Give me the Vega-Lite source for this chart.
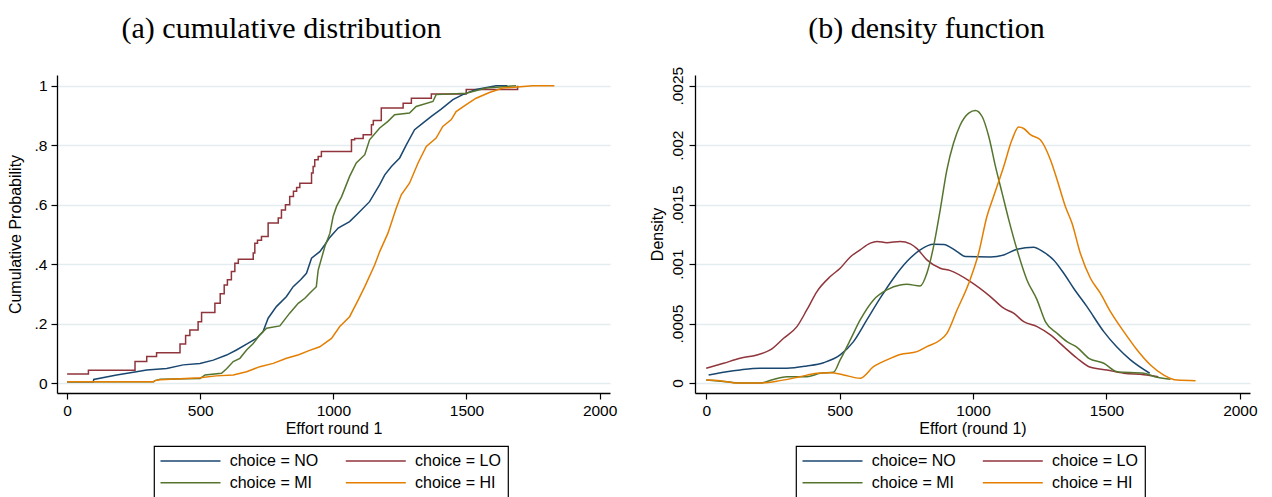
{
 "$schema": "https://vega.github.io/schema/vega-lite/v6.json",
 "autosize": {"type": "none"},
 "padding": {"left": 57, "top": 75, "right": 1215, "bottom": 422},
 "background": "white",
 "config": {
  "view": {"stroke": null},
  "font": "Liberation Sans",
  "axis": {"domainColor": "black", "domainWidth": 1.3, "tickColor": "black", "tickSize": 6, "tickWidth": 1.2, "labelFont": "Liberation Sans", "labelFontSize": 15.5, "labelColor": "black", "titleFont": "Liberation Sans", "titleFontSize": 16, "titleFontWeight": "normal", "titleColor": "black", "labelPadding": 4, "gridColor": "#e3ecee", "gridWidth": 1.3},
  "legend": {"orient": "none", "direction": "horizontal", "columns": 2, "symbolType": "M-1.7,0H10.3", "symbolSize": 100, "symbolStrokeWidth": 1.5, "strokeColor": "black", "strokeWidth": 1.2, "fillColor": "white", "padding": 7, "labelFont": "Liberation Sans", "labelFontSize": 16, "labelColor": "black", "labelOffset": 52.7, "columnPadding": 23.3, "rowPadding": 5.7, "labelLimit": 300},
  "title": {"font": "Liberation Serif", "fontSize": 30, "fontWeight": "normal", "color": "black"}
 },
 "bounds": "flush",
 "spacing": 85,
 "resolve": {"scale": {"color": "independent"}, "legend": {"color": "independent"}},
 "datasets": {
  "cdf": [
   {"g":"LO","x":0,"p":0.03},{"g":"LO","x":80,"p":0.043},{"g":"LO","x":255,"p":0.072},{"g":"LO","x":299,"p":0.089},{"g":"LO","x":336,"p":0.102},{"g":"LO","x":424,"p":0.131},{"g":"LO","x":445,"p":0.16},{"g":"LO","x":461,"p":0.178},{"g":"LO","x":492,"p":0.206},{"g":"LO","x":505,"p":0.237},{"g":"LO","x":555,"p":0.268},{"g":"LO","x":575,"p":0.3},{"g":"LO","x":590,"p":0.33},{"g":"LO","x":602,"p":0.347},{"g":"LO","x":617,"p":0.375},{"g":"LO","x":630,"p":0.403},{"g":"LO","x":643,"p":0.416},{"g":"LO","x":699,"p":0.437},{"g":"LO","x":705,"p":0.47},{"g":"LO","x":715,"p":0.48},{"g":"LO","x":730,"p":0.493},{"g":"LO","x":755,"p":0.538},{"g":"LO","x":793,"p":0.555},{"g":"LO","x":805,"p":0.582},{"g":"LO","x":820,"p":0.6},{"g":"LO","x":836,"p":0.627},{"g":"LO","x":850,"p":0.645},{"g":"LO","x":862,"p":0.658},{"g":"LO","x":874,"p":0.672},{"g":"LO","x":918,"p":0.706},{"g":"LO","x":924,"p":0.728},{"g":"LO","x":930,"p":0.751},{"g":"LO","x":943,"p":0.762},{"g":"LO","x":955,"p":0.779},{"g":"LO","x":1068,"p":0.818},{"g":"LO","x":1080,"p":0.822},{"g":"LO","x":1112,"p":0.835},{"g":"LO","x":1143,"p":0.869},{"g":"LO","x":1150,"p":0.883},{"g":"LO","x":1180,"p":0.925},{"g":"LO","x":1262,"p":0.941},{"g":"LO","x":1293,"p":0.958},{"g":"LO","x":1368,"p":0.972},{"g":"LO","x":1499,"p":0.987},{"g":"LO","x":1692,"p":1.0},
   {"g":"NO","x":0,"p":0.004},{"g":"NO","x":98,"p":0.004},{"g":"NO","x":100,"p":0.012},{"g":"NO","x":186,"p":0.027},{"g":"NO","x":249,"p":0.036},{"g":"NO","x":299,"p":0.044},{"g":"NO","x":374,"p":0.049},{"g":"NO","x":436,"p":0.061},{"g":"NO","x":499,"p":0.066},{"g":"NO","x":549,"p":0.077},{"g":"NO","x":599,"p":0.094},{"g":"NO","x":636,"p":0.111},{"g":"NO","x":674,"p":0.131},{"g":"NO","x":711,"p":0.15},{"g":"NO","x":736,"p":0.173},{"g":"NO","x":755,"p":0.218},{"g":"NO","x":786,"p":0.257},{"g":"NO","x":824,"p":0.291},{"g":"NO","x":849,"p":0.324},{"g":"NO","x":877,"p":0.347},{"g":"NO","x":899,"p":0.369},{"g":"NO","x":918,"p":0.42},{"g":"NO","x":949,"p":0.442},{"g":"NO","x":968,"p":0.465},{"g":"NO","x":984,"p":0.487},{"g":"NO","x":1018,"p":0.521},{"g":"NO","x":1061,"p":0.543},{"g":"NO","x":1093,"p":0.571},{"g":"NO","x":1136,"p":0.61},{"g":"NO","x":1174,"p":0.667},{"g":"NO","x":1193,"p":0.7},{"g":"NO","x":1218,"p":0.728},{"g":"NO","x":1249,"p":0.757},{"g":"NO","x":1274,"p":0.801},{"g":"NO","x":1305,"p":0.852},{"g":"NO","x":1336,"p":0.874},{"g":"NO","x":1368,"p":0.897},{"g":"NO","x":1405,"p":0.921},{"g":"NO","x":1449,"p":0.953},{"g":"NO","x":1486,"p":0.97},{"g":"NO","x":1536,"p":0.987},{"g":"NO","x":1611,"p":1.0},{"g":"NO","x":1654,"p":1.0},
   {"g":"MI","x":0,"p":0.004},{"g":"MI","x":324,"p":0.004},{"g":"MI","x":330,"p":0.008},{"g":"MI","x":350,"p":0.013},{"g":"MI","x":499,"p":0.015},{"g":"MI","x":518,"p":0.027},{"g":"MI","x":580,"p":0.033},{"g":"MI","x":599,"p":0.048},{"g":"MI","x":624,"p":0.072},{"g":"MI","x":649,"p":0.083},{"g":"MI","x":674,"p":0.111},{"g":"MI","x":699,"p":0.133},{"g":"MI","x":724,"p":0.162},{"g":"MI","x":749,"p":0.184},{"g":"MI","x":799,"p":0.192},{"g":"MI","x":836,"p":0.235},{"g":"MI","x":868,"p":0.268},{"g":"MI","x":893,"p":0.285},{"g":"MI","x":911,"p":0.302},{"g":"MI","x":936,"p":0.324},{"g":"MI","x":943,"p":0.38},{"g":"MI","x":968,"p":0.459},{"g":"MI","x":987,"p":0.504},{"g":"MI","x":999,"p":0.56},{"g":"MI","x":1012,"p":0.594},{"g":"MI","x":1031,"p":0.627},{"g":"MI","x":1061,"p":0.695},{"g":"MI","x":1086,"p":0.74},{"g":"MI","x":1118,"p":0.768},{"g":"MI","x":1136,"p":0.818},{"g":"MI","x":1174,"p":0.858},{"g":"MI","x":1205,"p":0.88},{"g":"MI","x":1230,"p":0.902},{"g":"MI","x":1286,"p":0.908},{"g":"MI","x":1311,"p":0.93},{"g":"MI","x":1374,"p":0.947},{"g":"MI","x":1386,"p":0.97},{"g":"MI","x":1499,"p":0.975},{"g":"MI","x":1574,"p":0.992},{"g":"MI","x":1686,"p":1.0},
   {"g":"HI","x":0,"p":0.004},{"g":"HI","x":324,"p":0.004},{"g":"HI","x":330,"p":0.008},{"g":"HI","x":350,"p":0.011},{"g":"HI","x":499,"p":0.018},{"g":"HI","x":560,"p":0.024},{"g":"HI","x":624,"p":0.027},{"g":"HI","x":674,"p":0.038},{"g":"HI","x":724,"p":0.055},{"g":"HI","x":774,"p":0.066},{"g":"HI","x":824,"p":0.083},{"g":"HI","x":870,"p":0.095},{"g":"HI","x":906,"p":0.108},{"g":"HI","x":949,"p":0.122},{"g":"HI","x":993,"p":0.15},{"g":"HI","x":1024,"p":0.19},{"g":"HI","x":1061,"p":0.223},{"g":"HI","x":1093,"p":0.279},{"g":"HI","x":1118,"p":0.324},{"g":"HI","x":1155,"p":0.397},{"g":"HI","x":1174,"p":0.442},{"g":"HI","x":1205,"p":0.504},{"g":"HI","x":1236,"p":0.588},{"g":"HI","x":1255,"p":0.633},{"g":"HI","x":1286,"p":0.672},{"g":"HI","x":1318,"p":0.74},{"g":"HI","x":1349,"p":0.796},{"g":"HI","x":1386,"p":0.824},{"g":"HI","x":1411,"p":0.863},{"g":"HI","x":1443,"p":0.886},{"g":"HI","x":1461,"p":0.913},{"g":"HI","x":1499,"p":0.936},{"g":"HI","x":1536,"p":0.958},{"g":"HI","x":1586,"p":0.977},{"g":"HI","x":1636,"p":0.992},{"g":"HI","x":1749,"p":1.0},{"g":"HI","x":1830,"p":1.0}
  ],
  "dens": [
   {"g":"LO","x":0,"d":0.000124},{"g":"LO","x":65,"d":0.000166},{"g":"LO","x":127,"d":0.000208},{"g":"LO","x":190,"d":0.000236},{"g":"LO","x":240,"d":0.000278},{"g":"LO","x":290,"d":0.000376},{"g":"LO","x":340,"d":0.000474},{"g":"LO","x":377,"d":0.000614},{"g":"LO","x":415,"d":0.000769},{"g":"LO","x":465,"d":0.000895},{"g":"LO","x":502,"d":0.000965},{"g":"LO","x":540,"d":0.00106},{"g":"LO","x":577,"d":0.00112},{"g":"LO","x":615,"d":0.001176},{"g":"LO","x":640,"d":0.00119},{"g":"LO","x":677,"d":0.00118},{"g":"LO","x":727,"d":0.00119},{"g":"LO","x":765,"d":0.00117},{"g":"LO","x":790,"d":0.00113},{"g":"LO","x":827,"d":0.001035},{"g":"LO","x":877,"d":0.000965},{"g":"LO","x":915,"d":0.000945},{"g":"LO","x":990,"d":0.000853},{"g":"LO","x":1065,"d":0.000727},{"g":"LO","x":1115,"d":0.000629},{"g":"LO","x":1152,"d":0.000587},{"g":"LO","x":1190,"d":0.000516},{"g":"LO","x":1240,"d":0.000474},{"g":"LO","x":1290,"d":0.000404},{"g":"LO","x":1340,"d":0.000306},{"g":"LO","x":1390,"d":0.000208},{"g":"LO","x":1440,"d":0.000132},{"g":"LO","x":1502,"d":0.000109},{"g":"LO","x":1565,"d":0.000082},{"g":"LO","x":1640,"d":0.00007},{"g":"LO","x":1694,"d":0.000053},
   {"g":"NO","x":9,"d":0.000067},{"g":"NO","x":77,"d":0.000095},{"g":"NO","x":127,"d":0.00011},{"g":"NO","x":202,"d":0.000124},{"g":"NO","x":302,"d":0.000124},{"g":"NO","x":377,"d":0.000143},{"g":"NO","x":440,"d":0.000171},{"g":"NO","x":502,"d":0.000236},{"g":"NO","x":552,"d":0.000348},{"g":"NO","x":602,"d":0.00053},{"g":"NO","x":652,"d":0.000713},{"g":"NO","x":702,"d":0.000881},{"g":"NO","x":752,"d":0.001021},{"g":"NO","x":802,"d":0.00112},{"g":"NO","x":852,"d":0.001167},{"g":"NO","x":890,"d":0.001165},{"g":"NO","x":940,"d":0.001105},{"g":"NO","x":971,"d":0.001063},{"g":"NO","x":1065,"d":0.00106},{"g":"NO","x":1115,"d":0.001077},{"g":"NO","x":1165,"d":0.001125},{"g":"NO","x":1227,"d":0.001142},{"g":"NO","x":1265,"d":0.0011},{"g":"NO","x":1302,"d":0.001035},{"g":"NO","x":1340,"d":0.000923},{"g":"NO","x":1377,"d":0.000797},{"g":"NO","x":1427,"d":0.000642},{"g":"NO","x":1490,"d":0.000432},{"g":"NO","x":1540,"d":0.0003},{"g":"NO","x":1590,"d":0.000194},{"g":"NO","x":1662,"d":0.000082},
   {"g":"MI","x":0,"d":0.000025},{"g":"MI","x":65,"d":0.000013},{"g":"MI","x":127,"d":0.0},{"g":"MI","x":202,"d":0.0},{"g":"MI","x":252,"d":0.00003},{"g":"MI","x":302,"d":0.000053},{"g":"MI","x":377,"d":0.000053},{"g":"MI","x":427,"d":0.000082},{"g":"MI","x":477,"d":0.00009},{"g":"MI","x":502,"d":0.000194},{"g":"MI","x":540,"d":0.000362},{"g":"MI","x":577,"d":0.00053},{"g":"MI","x":627,"d":0.000699},{"g":"MI","x":677,"d":0.000783},{"g":"MI","x":727,"d":0.000825},{"g":"MI","x":752,"d":0.00083},{"g":"MI","x":802,"d":0.000816},{"g":"MI","x":827,"d":0.000923},{"g":"MI","x":852,"d":0.001147},{"g":"MI","x":877,"d":0.001456},{"g":"MI","x":902,"d":0.001793},{"g":"MI","x":927,"d":0.002018},{"g":"MI","x":952,"d":0.00217},{"g":"MI","x":984,"d":0.00227},{"g":"MI","x":1009,"d":0.002292},{"g":"MI","x":1034,"d":0.002241},{"g":"MI","x":1059,"d":0.002073},{"g":"MI","x":1084,"d":0.001821},{"g":"MI","x":1109,"d":0.001597},{"g":"MI","x":1134,"d":0.001372},{"g":"MI","x":1165,"d":0.00112},{"g":"MI","x":1202,"d":0.000867},{"g":"MI","x":1240,"d":0.000699},{"g":"MI","x":1271,"d":0.000516},{"g":"MI","x":1315,"d":0.000418},{"g":"MI","x":1352,"d":0.000348},{"g":"MI","x":1390,"d":0.0003},{"g":"MI","x":1434,"d":0.000208},{"g":"MI","x":1490,"d":0.000166},{"g":"MI","x":1540,"d":0.000095},{"g":"MI","x":1640,"d":0.000082},{"g":"MI","x":1690,"d":0.000048},{"g":"MI","x":1740,"d":0.000031},
   {"g":"HI","x":0,"d":0.000025},{"g":"HI","x":52,"d":0.00002},{"g":"HI","x":115,"d":0.0},{"g":"HI","x":202,"d":0.0},{"g":"HI","x":277,"d":0.00002},{"g":"HI","x":352,"d":0.000053},{"g":"HI","x":415,"d":0.000082},{"g":"HI","x":465,"d":0.000087},{"g":"HI","x":515,"d":0.000068},{"g":"HI","x":577,"d":0.00004},{"g":"HI","x":627,"d":0.000137},{"g":"HI","x":677,"d":0.000194},{"g":"HI","x":727,"d":0.00024},{"g":"HI","x":790,"d":0.000264},{"g":"HI","x":827,"d":0.000306},{"g":"HI","x":877,"d":0.000362},{"g":"HI","x":902,"d":0.000418},{"g":"HI","x":940,"d":0.000614},{"g":"HI","x":984,"d":0.000839},{"g":"HI","x":1021,"d":0.001092},{"g":"HI","x":1052,"d":0.0014},{"g":"HI","x":1077,"d":0.001568},{"g":"HI","x":1115,"d":0.001821},{"g":"HI","x":1146,"d":0.002045},{"g":"HI","x":1171,"d":0.002152},{"g":"HI","x":1190,"d":0.00214},{"g":"HI","x":1215,"d":0.002088},{"g":"HI","x":1252,"d":0.002045},{"g":"HI","x":1290,"d":0.001877},{"g":"HI","x":1315,"d":0.001709},{"g":"HI","x":1346,"d":0.001484},{"g":"HI","x":1371,"d":0.001344},{"g":"HI","x":1402,"d":0.001092},{"g":"HI","x":1440,"d":0.000881},{"g":"HI","x":1477,"d":0.000755},{"g":"HI","x":1515,"d":0.0006},{"g":"HI","x":1565,"d":0.000432},{"g":"HI","x":1615,"d":0.000278},{"g":"HI","x":1665,"d":0.000152},{"g":"HI","x":1715,"d":0.000067},{"g":"HI","x":1765,"d":0.000025},{"g":"HI","x":1834,"d":0.00002}
  ]
 },
 "hconcat": [
  {
   "width": 553, "height": 318,
   "title": {"text": "(a) cumulative distribution", "anchor": "middle", "frame": "group", "dx": -52, "offset": 31},
   "data": {"name": "cdf"},
   "encoding": {
    "x": {"field": "x", "type": "quantitative", "scale": {"domain": [-38, 2039], "nice": false, "zero": false}, "axis": {"values": [0, 500, 1000, 1500, 2000], "format": "d", "grid": false, "title": "Effort round 1", "titlePadding": 2}},
    "y": {"field": "p", "type": "quantitative", "scale": {"domain": [-0.0336, 1.036], "nice": false}, "axis": {"values": [0, 0.2, 0.4, 0.6, 0.8, 1], "grid": true, "title": "Cumulative Probability", "titlePadding": 11, "labelExpr": "datum.value == 0 ? '0' : replace(format(datum.value, '~g'), '0.', '.')"}},
    "color": {"field": "g", "type": "nominal", "scale": {"domain": ["NO", "LO", "MI", "HI"], "range": ["#1a476f", "#90353b", "#55752f", "#e37e00"]}, "legend": {"title": null, "legendX": 97, "legendY": 371, "labelExpr": "'choice = ' + datum.label"}}
   },
   "layer": [
    {"transform": [{"filter": "datum.g == 'LO'"}], "mark": {"type": "line", "interpolate": "step-after", "strokeWidth": 1.5}},
    {"transform": [{"filter": "datum.g != 'LO'"}], "mark": {"type": "line", "strokeWidth": 1.5}}
   ]
  },
  {
   "width": 555, "height": 318,
   "title": {"text": "(b) density function", "anchor": "middle", "frame": "group", "dx": -46, "offset": 22},
   "data": {"name": "dens"},
   "mark": {"type": "line", "interpolate": "monotone", "strokeWidth": 1.5},
   "encoding": {
    "x": {"field": "x", "type": "quantitative", "scale": {"domain": [-42, 2038], "nice": false, "zero": false}, "axis": {"values": [0, 500, 1000, 1500, 2000], "format": "d", "grid": false, "title": "Effort (round 1)", "titlePadding": 2}},
    "y": {"field": "d", "type": "quantitative", "scale": {"domain": [-0.000084, 0.00259], "nice": false}, "axis": {"values": [0, 0.0005, 0.001, 0.0015, 0.002, 0.0025], "grid": true, "title": "Density", "titlePadding": 5, "labelAngle": 270, "labelAlign": "center", "labelBaseline": "bottom", "labelPadding": 4, "labelExpr": "datum.value == 0 ? '0' : replace(format(datum.value, '~g'), '0.', '.')"}},
    "color": {"field": "g", "type": "nominal", "scale": {"domain": ["NO", "LO", "MI", "HI"], "range": ["#1a476f", "#90353b", "#55752f", "#e37e00"]}, "legend": {"title": null, "legendX": 101, "legendY": 371, "labelExpr": "datum.label == 'NO' ? 'choice= NO' : 'choice = ' + datum.label"}}
   }
  }
 ]
}
